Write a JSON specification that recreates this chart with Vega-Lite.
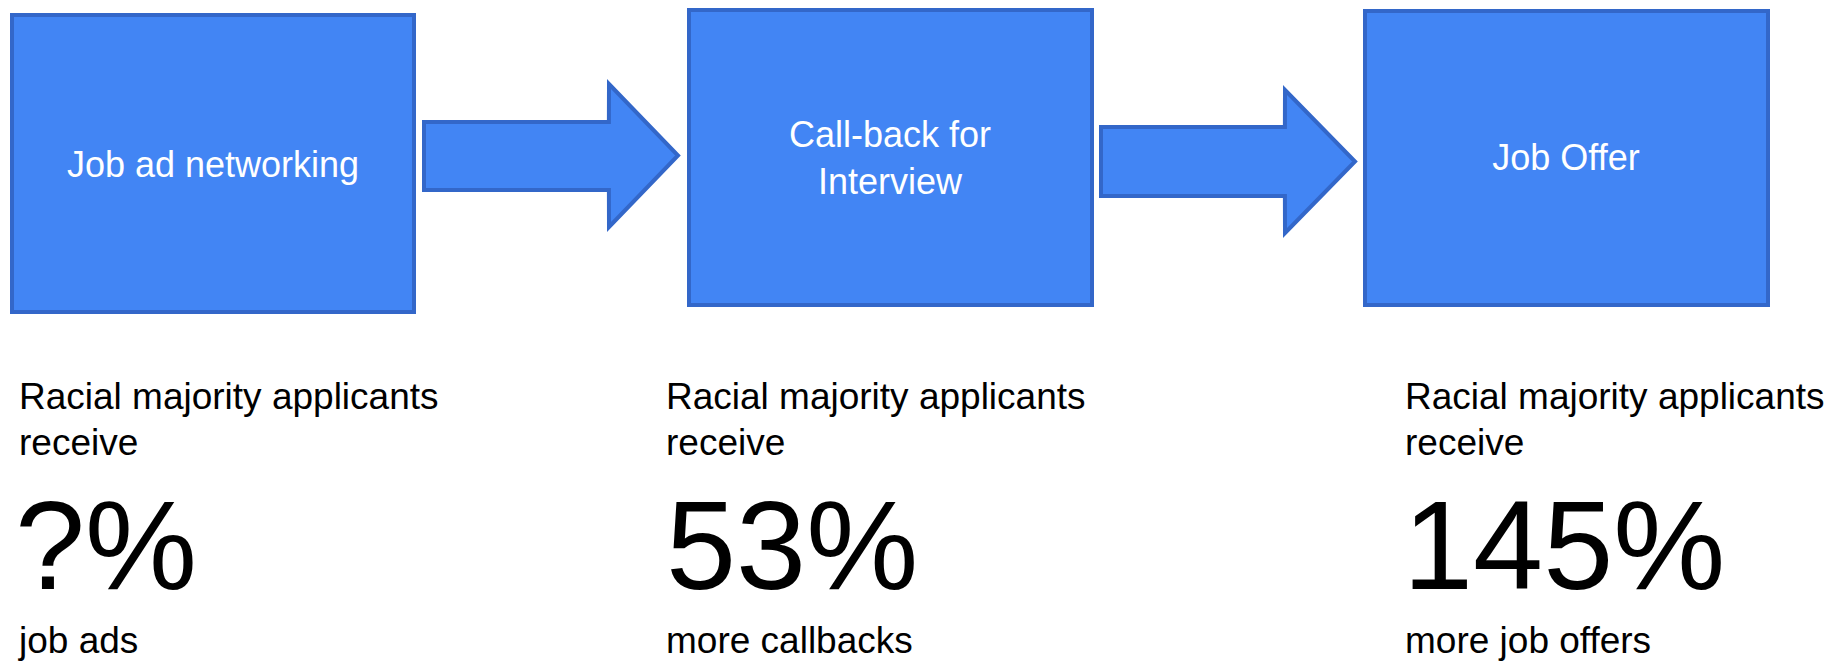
{
  "$schema": "https://vega.github.io/schema/vega-lite/v6.json",
  "width": 1835,
  "height": 662,
  "autosize": {"type": "fit", "contains": "padding"},
  "padding": 0,
  "background": "white",
  "config": {"view": {"stroke": null}, "axis": {"disable": true}},
  "datasets": {
    "boxes": [
      {"step": "Job ad networking", "x1": 12, "x2": 414, "y1": 15, "y2": 312},
      {"step": "Call-back for Interview", "x1": 689, "x2": 1092, "y1": 10, "y2": 305},
      {"step": "Job Offer", "x1": 1365, "x2": 1768, "y1": 11, "y2": 305}
    ],
    "arrows": [
      {"arrow": "A", "x": 424, "top": 122, "bottom": 190},
      {"arrow": "A", "x": 608.9, "top": 122, "bottom": 190},
      {"arrow": "A", "x": 609, "top": 84, "bottom": 227},
      {"arrow": "A", "x": 678, "top": 155.5, "bottom": 155.5},
      {"arrow": "B", "x": 1101, "top": 127, "bottom": 196},
      {"arrow": "B", "x": 1284.9, "top": 127, "bottom": 196},
      {"arrow": "B", "x": 1285, "top": 90, "bottom": 233},
      {"arrow": "B", "x": 1355, "top": 161.5, "bottom": 161.5}
    ],
    "boxLabels": [
      {"text": "Job ad networking", "x": 213, "y": 177},
      {"text": "Call-back for", "x": 890, "y": 147},
      {"text": "Interview", "x": 890, "y": 194},
      {"text": "Job Offer", "x": 1566, "y": 170}
    ],
    "captions": [
      {"text": "Racial majority applicants", "x": 19, "y": 409},
      {"text": "receive", "x": 19, "y": 455},
      {"text": "job ads", "x": 19, "y": 653},
      {"text": "Racial majority applicants", "x": 666, "y": 409},
      {"text": "receive", "x": 666, "y": 455},
      {"text": "more callbacks", "x": 666, "y": 653},
      {"text": "Racial majority applicants", "x": 1405, "y": 409},
      {"text": "receive", "x": 1405, "y": 455},
      {"text": "more job offers", "x": 1405, "y": 653}
    ],
    "figures": [
      {"text": "?%", "x": 15, "y": 589},
      {"text": "53%", "x": 666, "y": 589},
      {"text": "145%", "x": 1403, "y": 589}
    ]
  },
  "layer": [
    {
      "data": {"name": "boxes"},
      "mark": {"type": "rect", "fill": "#4285F4", "stroke": "#3367C9", "strokeWidth": 4},
      "encoding": {
        "x": {"field": "x1", "type": "quantitative", "scale": {"domain": [0, 1835], "nice": false, "zero": false}},
        "x2": {"field": "x2"},
        "y": {"field": "y1", "type": "quantitative", "scale": {"domain": [0, 662], "nice": false, "zero": false, "reverse": true}},
        "y2": {"field": "y2"}
      }
    },
    {
      "data": {"name": "arrows"},
      "mark": {"type": "area", "orient": "vertical", "fill": "#4285F4", "fillOpacity": 1, "stroke": "#3367C9", "strokeWidth": 4, "interpolate": "linear", "strokeJoin": "miter"},
      "encoding": {
        "x": {"field": "x", "type": "quantitative"},
        "y": {"field": "top", "type": "quantitative"},
        "y2": {"field": "bottom"},
        "detail": {"field": "arrow"}
      }
    },
    {
      "data": {"name": "boxLabels"},
      "mark": {"type": "text", "font": "Liberation Sans", "fontSize": 36, "color": "white", "align": "center", "baseline": "alphabetic"},
      "encoding": {
        "x": {"field": "x", "type": "quantitative"},
        "y": {"field": "y", "type": "quantitative"},
        "text": {"field": "text"}
      }
    },
    {
      "data": {"name": "captions"},
      "mark": {"type": "text", "font": "Liberation Sans", "fontSize": 37, "color": "black", "align": "left", "baseline": "alphabetic"},
      "encoding": {
        "x": {"field": "x", "type": "quantitative"},
        "y": {"field": "y", "type": "quantitative"},
        "text": {"field": "text"}
      }
    },
    {
      "data": {"name": "figures"},
      "mark": {"type": "text", "font": "Liberation Sans", "fontSize": 126, "color": "black", "align": "left", "baseline": "alphabetic"},
      "encoding": {
        "x": {"field": "x", "type": "quantitative"},
        "y": {"field": "y", "type": "quantitative"},
        "text": {"field": "text"}
      }
    }
  ]
}
